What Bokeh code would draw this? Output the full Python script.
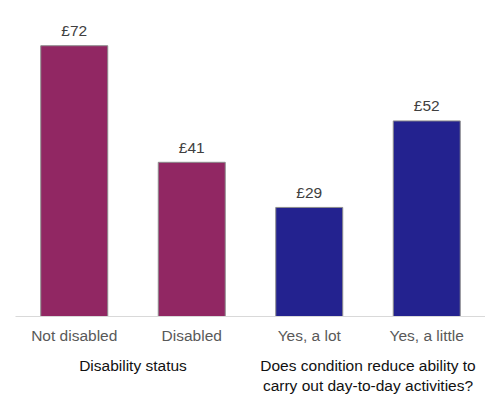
from bokeh.plotting import figure
from bokeh.models import FactorRange, Range1d, ColumnDataSource
from bokeh.core.properties import value
from bokeh.embed import file_html
from bokeh.resources import INLINE

categories = ["Not disabled", "Disabled", "Yes, a lot", "Yes, a little"]
values = [72, 41, 29, 52]
groups = [0, 0, 1, 1]
group_labels = ["Disability status",
                "Does condition reduce ability to\ncarry out day-to-day activities?"]
group_colors = ["#912763", "#23228F"]

FONT = "Liberation Sans"

factors = [(group_labels[g], c) for g, c in zip(groups, categories)]

source = ColumnDataSource(dict(
    x=factors,
    val=values,
    color=[group_colors[g] for g in groups],
    lab=["£%d" % v for v in values],
))

xr = FactorRange(*factors, range_padding=0, group_padding=0, factor_padding=0)

p = figure(x_range=xr, y_range=Range1d(0, max(values) * 1.167),
           width=485, height=400, output_backend="svg", toolbar_location=None,
           y_axis_location=None,
           min_border_left=15, min_border_right=0, min_border_top=0, min_border_bottom=84)

p.vbar(x="x", top="val", width=0.57, source=source, fill_color="color",
       line_color="#8c8c8c", line_width=1)

p.text(x="x", y="val", text="lab", source=source, text_align="center",
       text_baseline="alphabetic", y_offset=-15, text_font=value(FONT),
       text_font_size="15.5px", text_color="#404040")

ax = p.xaxis[0]
ax.axis_line_color = "#d9d9d9"
ax.axis_line_width = 1
ax.major_tick_line_color = None
ax.minor_tick_line_color = None
ax.major_tick_out = 0
ax.major_tick_in = 0
ax.major_label_standoff = 10
ax.major_label_text_font = FONT
ax.major_label_text_font_size = "15.5px"
ax.major_label_text_color = "#595959"
ax.group_text_font = FONT
ax.group_text_font_size = "15.5px"
ax.group_text_font_style = "normal"
ax.group_text_color = "#111111"
ax.separator_line_color = None

p.xgrid.visible = False
p.ygrid.visible = False
p.outline_line_color = None

open("out.html", "w").write(file_html(p, INLINE))
